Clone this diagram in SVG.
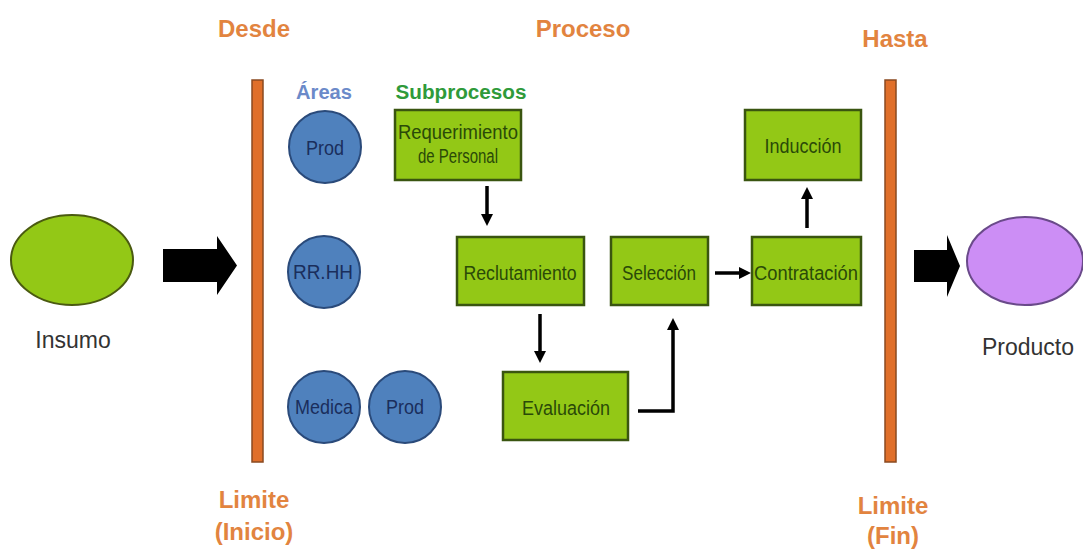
<svg xmlns="http://www.w3.org/2000/svg" width="1083" height="550" viewBox="0 0 1083 550">
<style>
.hdr{font-family:"Liberation Sans",Arial,sans-serif;font-weight:bold;font-size:24px;fill:#e2843f;text-anchor:middle}
.areas{font-family:"Liberation Sans",Arial,sans-serif;font-weight:bold;font-size:20px;fill:#6b8ac9;text-anchor:middle}
.subp{font-family:"Liberation Sans",Arial,sans-serif;font-weight:bold;font-size:20px;fill:#2f9a3a;text-anchor:middle}
.bar{fill:#e06f2a;stroke:#8a4a20;stroke-width:1.5}
.box{fill:#93c816;stroke:#3a5510;stroke-width:2.5}
.btxt{font-family:"Liberation Sans",Arial,sans-serif;font-size:20px;fill:#2a4a08;text-anchor:middle}
.circ{fill:#4f81bd;stroke:#2a4a7a;stroke-width:2}
.ctxt{font-family:"Liberation Sans",Arial,sans-serif;font-size:21px;fill:#1a2e5c;text-anchor:middle}
.lbl{font-family:"Liberation Sans",Arial,sans-serif;font-size:23px;fill:#333333;text-anchor:middle}
.conn{fill:none;stroke:#000;stroke-width:3.5}
.big{fill:#000}
</style>
<defs>
<marker id="ah" viewBox="0 0 10 10" refX="2" refY="5" markerWidth="12" markerHeight="12" markerUnits="userSpaceOnUse" orient="auto">
<path d="M0,0 L10,5 L0,10 z" fill="#000"/>
</marker>
</defs>
<rect width="1083" height="550" fill="#ffffff"/>

<g id="headers">
<text class="hdr" x="254" y="37">Desde</text>
<text class="hdr" x="583" y="37">Proceso</text>
<text class="hdr" x="895" y="47">Hasta</text>
<text class="areas" x="324" y="99" textLength="56" lengthAdjust="spacingAndGlyphs">Áreas</text>
<text class="subp" x="461" y="99" textLength="131" lengthAdjust="spacingAndGlyphs">Subprocesos</text>
</g>

<g id="limite-inicio">
<rect class="bar" x="252" y="80" width="11" height="382"/>
<text class="hdr" x="254" y="508">Limite</text>
<text class="hdr" x="254" y="540">(Inicio)</text>
</g>
<g id="limite-fin">
<rect class="bar" x="885" y="80" width="11" height="382"/>
<text class="hdr" x="893" y="514">Limite</text>
<text class="hdr" x="893" y="544">(Fin)</text>
</g>

<g id="insumo">
<ellipse cx="72" cy="260" rx="61" ry="45" fill="#93c816" stroke="#4a5a10" stroke-width="2"/>
<text class="lbl" x="73" y="348">Insumo</text>
</g>
<g id="producto">
<ellipse cx="1025" cy="261" rx="58" ry="44" fill="#cc8ef5" stroke="#6a4a8a" stroke-width="2"/>
<text class="lbl" x="1028" y="355">Producto</text>
</g>

<g id="area-prod1">
<circle class="circ" cx="325" cy="147" r="36"/>
<text class="ctxt" x="325" y="155" textLength="38" lengthAdjust="spacingAndGlyphs">Prod</text>
</g>
<g id="area-rrhh">
<circle class="circ" cx="324" cy="272" r="36"/>
<text class="ctxt" x="323" y="279" textLength="60" lengthAdjust="spacingAndGlyphs">RR.HH</text>
</g>
<g id="area-medica">
<circle class="circ" cx="324" cy="407" r="36"/>
<text class="ctxt" x="324" y="414" textLength="58" lengthAdjust="spacingAndGlyphs">Medica</text>
</g>
<g id="area-prod2">
<circle class="circ" cx="405" cy="407" r="36"/>
<text class="ctxt" x="405" y="414" textLength="38" lengthAdjust="spacingAndGlyphs">Prod</text>
</g>

<g id="requerimiento">
<rect class="box" x="395" y="110" width="126" height="70"/>
<text class="btxt" x="458" y="139" textLength="120" lengthAdjust="spacingAndGlyphs">Requerimiento</text>
<text class="btxt" x="458" y="163" textLength="80" lengthAdjust="spacingAndGlyphs">de Personal</text>
</g>
<g id="reclutamiento">
<rect class="box" x="457" y="237" width="127" height="68"/>
<text class="btxt" x="520" y="280" textLength="113" lengthAdjust="spacingAndGlyphs">Reclutamiento</text>
</g>
<g id="seleccion">
<rect class="box" x="611" y="237" width="97" height="68"/>
<text class="btxt" x="659" y="280" textLength="74" lengthAdjust="spacingAndGlyphs">Selección</text>
</g>
<g id="contratacion">
<rect class="box" x="752" y="237" width="109" height="68"/>
<text class="btxt" x="806" y="280" textLength="104" lengthAdjust="spacingAndGlyphs">Contratación</text>
</g>
<g id="induccion">
<rect class="box" x="745" y="110" width="116" height="70"/>
<text class="btxt" x="803" y="153" textLength="77" lengthAdjust="spacingAndGlyphs">Inducción</text>
</g>
<g id="evaluacion">
<rect class="box" x="503" y="372" width="125" height="68"/>
<text class="btxt" x="566" y="415" textLength="88" lengthAdjust="spacingAndGlyphs">Evaluación</text>
</g>

<g id="connectors">
<path class="big" d="M163,249 H217 V236 L237,265.5 L217,295 V282 H163 Z"/>
<path class="big" d="M914,250 H947 V235 L960,266 L947,297 V282 H914 Z"/>
<path class="conn" d="M487,186 V216.4" marker-end="url(#ah)"/>
<path class="conn" d="M540,314 V353.4" marker-end="url(#ah)"/>
<path class="conn" d="M638,411 H673 V327.6" marker-end="url(#ah)"/>
<path class="conn" d="M715,273 H741.4" marker-end="url(#ah)"/>
<path class="conn" d="M807,228 V196.6" marker-end="url(#ah)"/>
</g>
</svg>
